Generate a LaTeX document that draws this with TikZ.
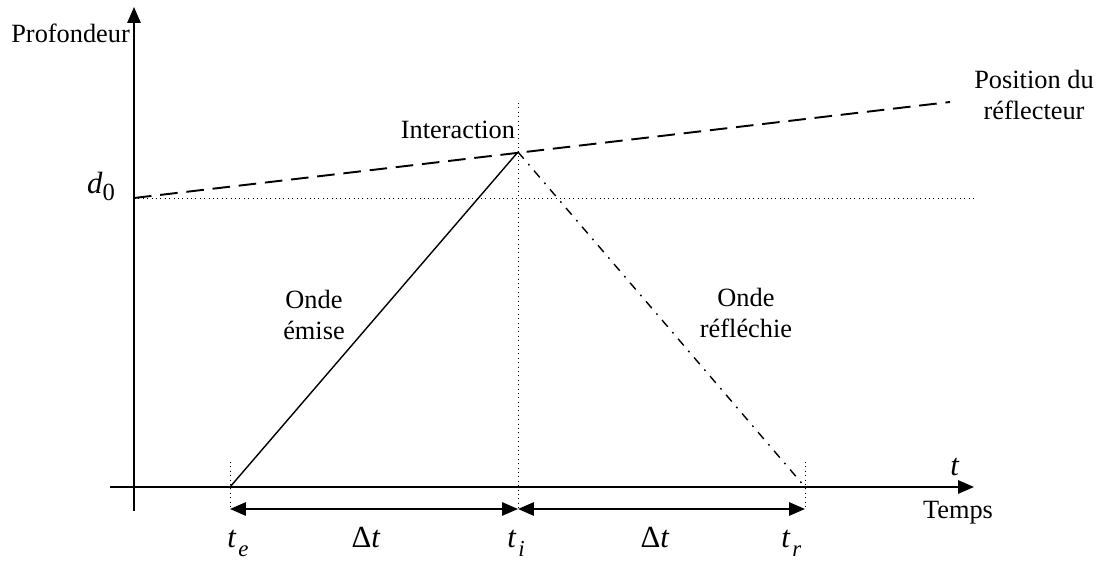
\documentclass[tikz,border=0pt]{standalone}
\usepackage{fontspec}
\setmainfont{Liberation Serif}
\usetikzlibrary{arrows.meta,positioning}

\newcommand{\tsub}[1]{\textit{t}\kern1pt\raisebox{-0.6ex}{\fontsize{13}{13}\selectfont\textit{#1}}}

\begin{document}
\begin{tikzpicture}
  [x=0.02cm, y=-0.02cm,
   every node/.style={font=\fontsize{15}{18}\selectfont, inner sep=1pt, align=center},
   big/.style={font=\fontsize{17.5}{20}\selectfont},
   axis/.style={line width=1.1pt, -{Triangle[length=9pt, width=7.5pt]}},
   guide/.style={line width=0.5pt, dotted},
   span/.style={line width=1.1pt, {Triangle[length=9pt, width=7.5pt]}-{Triangle[length=9pt, width=7.5pt]}},
   wave/.style={line width=0.8pt},
   tick/.style={big, anchor=base west, inner sep=0pt}]
  \useasboundingbox (0,0) rectangle (1099,563);

  % axes
  \coordinate (ybot) at (134,511);
  \coordinate (ytop) at (134,7);
  \coordinate (xleft) at (110,487);
  \coordinate (xright) at (974,487);
  \draw[axis] (ybot) -- (ytop);
  \draw[axis] (xleft) -- (xright);

  % time marks
  \coordinate (te) at (230,487);
  \coordinate (ti) at (518,487);
  \coordinate (tr) at (805,487);
  \coordinate (inter) at (518,152);
  \coordinate (d0) at (134,198);
  \coordinate (d0end) at (975,198);
  \coordinate (refl) at (950,102);
  \coordinate (tetop) at (230,462);
  \coordinate (tebot) at (230,509);
  \coordinate (titop) at (518,103);
  \coordinate (tibot) at (518,509);
  \coordinate (trtop) at (805,462);
  \coordinate (trbot) at (805,509);

  \draw[guide] (tetop) -- (tebot);
  \draw[guide] (titop) -- (tibot);
  \draw[guide] (trtop) -- (trbot);
  \draw[guide] (d0) -- (d0end);

  % reflector and waves
  \draw[line width=1.1pt, dash pattern=on 10pt off 5pt] (d0) -- (refl);
  \draw[wave] (te) -- (inter);
  \draw[wave, dash pattern=on 5pt off 4pt on 1pt off 4pt] (inter) -- (tr);

  % intervals
  \draw[span] (tebot) -- (tibot);
  \draw[span] (tibot) -- (trbot);

  % labels
  \node (prof) [anchor=east] at (132,33) {Profondeur};
  \node (d0lbl) [big] at (101,186) {\textit{d}\raisebox{-0.5ex}{\fontsize{14}{14}\selectfont 0}};
  \node (interlbl) at (458,130) {Interaction};
  \node (refllbl) at (1034,95) {Position du\\réflecteur};
  \node (emise) at (314,315) {Onde\\émise};
  \node (reflechie) at (746,313) {Onde\\réfléchie};
  \node (tlbl) [big] at (955,467) {\textit{t}};
  \node (temps) at (958,513) {Temps};
  \node (telbl) [tick] at (227,548) {\tsub{e}};
  \node (dt1) [big, anchor=base] at (366,548) {Δ\textit{t}};
  \node (tilbl) [tick] at (507,548) {\tsub{i}};
  \node (dt2) [big, anchor=base] at (655,548) {Δ\textit{t}};
  \node (trlbl) [tick] at (781,548) {\tsub{r}};
\end{tikzpicture}
\end{document}
